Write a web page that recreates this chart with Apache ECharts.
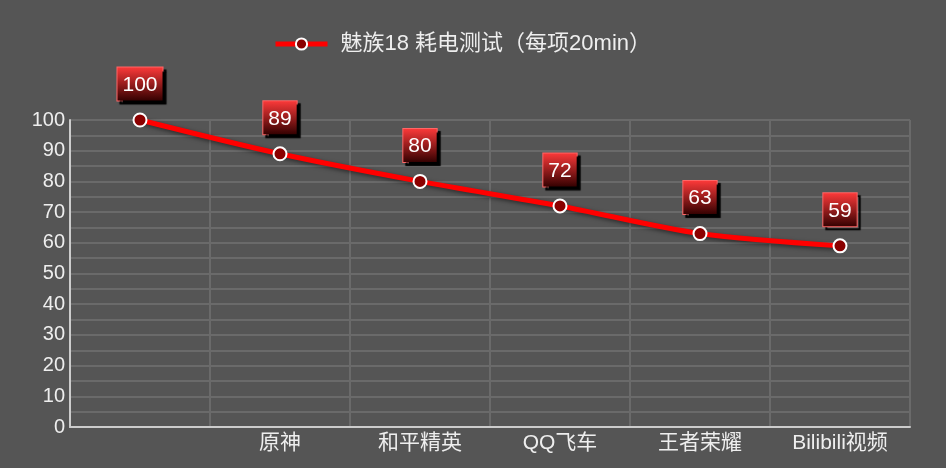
<!DOCTYPE html>
<html>
<head>
<meta charset="utf-8">
<script src="https://cdn.jsdelivr.net/npm/echarts@6/dist/echarts.min.js"></script>
<style>
  html, body { margin: 0; padding: 0; background: #555555; }
  #chart { width: 946px; height: 468px; }
</style>
</head>
<body>
<div id="chart"></div>
<script>
var categories = ['', '原神', '和平精英', 'QQ飞车', '王者荣耀', 'Bilibili视频'];
var batteryValues = [100, 89, 80, 72, 63, 59];
var seriesName = '魅族18 耗电测试（每项20min）';

var chart = echarts.init(document.getElementById('chart'));

chart.setOption({
  backgroundColor: '#555555',
  textStyle: { fontFamily: 'Liberation Sans, Arial, Noto Sans CJK SC, sans-serif' },
  legend: {
    top: 28,
    left: 268,
    itemWidth: 52,
    itemHeight: 14,
    itemGap: 10,
    textStyle: { color: '#eeeeee', fontSize: 22, padding: [0, 0, 0, 8] },
    lineStyle: { width: 5 },
    data: [seriesName]
  },
  grid: { left: 70, right: 36, top: 120, bottom: 41, containLabel: false },
  xAxis: {
    type: 'category',
    data: categories,
    boundaryGap: true,
    axisLine: { lineStyle: { color: '#cccccc', width: 2 } },
    axisTick: { show: false },
    axisLabel: { color: '#eeeeee', fontSize: 21, margin: 6 },
    splitLine: { show: true, lineStyle: { color: '#6a6a6a', width: 2 } }
  },
  yAxis: {
    type: 'value',
    min: 0,
    max: 100,
    interval: 10,
    axisLine: { show: true, lineStyle: { color: '#cccccc', width: 2 } },
    axisTick: { show: false },
    axisLabel: { color: '#eeeeee', fontSize: 20, margin: 5 },
    splitLine: { show: true, lineStyle: { color: '#6a6a6a', width: 2 } },
    minorTick: { show: false, splitNumber: 2 },
    minorSplitLine: { show: true, lineStyle: { color: '#6a6a6a', width: 2 } }
  },
  series: [{
    name: seriesName,
    type: 'line',
    data: batteryValues,
    smooth: 0.3,
    symbol: 'circle',
    symbolSize: 13,
    itemStyle: { color: '#8b0000', borderColor: '#ffffff', borderWidth: 2 },
    lineStyle: {
      color: '#ff0000',
      width: 5,
      shadowColor: 'rgba(0,0,0,0.5)',
      shadowBlur: 4,
      shadowOffsetX: 2,
      shadowOffsetY: 2
    },
    label: {
      show: true,
      position: 'top',
      distance: 12,
      color: '#ffffff',
      fontSize: 21,
      padding: [7, 5, 5, 5],
      borderColor: '#ff6666',
      borderWidth: 1,
      backgroundColor: {
        type: 'linear', x: 0, y: 0, x2: 0, y2: 1,
        colorStops: [
          { offset: 0, color: '#ff3a3a' },
          { offset: 1, color: '#300000' }
        ]
      },
      shadowColor: '#000000',
      shadowBlur: 1,
      shadowOffsetX: 3,
      shadowOffsetY: 3
    }
  }]
});
</script>
</body>
</html>
